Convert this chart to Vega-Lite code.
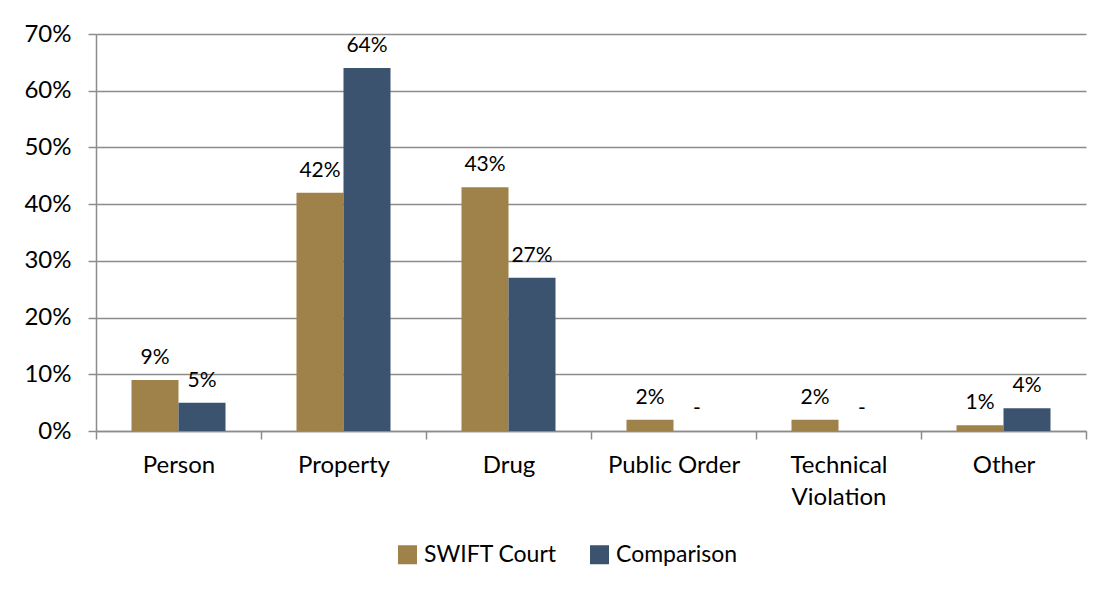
{
  "$schema": "https://vega.github.io/schema/vega-lite/v6.json",
  "width": 990,
  "height": 397,
  "autosize": "none",
  "padding": {"left": 96, "top": 34, "right": 22, "bottom": 161},
  "background": "white",
  "config": {
    "font": "Lato",
    "view": {"stroke": null},
    "axis": {"labelFont": "Lato", "labelColor": "#000000", "titleFont": "Lato"},
    "legend": {"labelFont": "Lato"}
  },
  "data": {
    "values": [
      {"category": "Person", "series": "SWIFT Court", "value": 9, "label": "9%"},
      {"category": "Person", "series": "Comparison", "value": 5, "label": "5%"},
      {"category": "Property", "series": "SWIFT Court", "value": 42, "label": "42%"},
      {"category": "Property", "series": "Comparison", "value": 64, "label": "64%"},
      {"category": "Drug", "series": "SWIFT Court", "value": 43, "label": "43%"},
      {"category": "Drug", "series": "Comparison", "value": 27, "label": "27%"},
      {"category": "Public Order", "series": "SWIFT Court", "value": 2, "label": "2%"},
      {"category": "Public Order", "series": "Comparison", "value": 0, "label": "-"},
      {"category": "Technical Violation", "series": "SWIFT Court", "value": 2, "label": "2%"},
      {"category": "Technical Violation", "series": "Comparison", "value": 0, "label": "-"},
      {"category": "Other", "series": "SWIFT Court", "value": 1, "label": "1%"},
      {"category": "Other", "series": "Comparison", "value": 4, "label": "4%"}
    ]
  },
  "encoding": {
    "x": {
      "field": "category",
      "type": "nominal",
      "sort": ["Person", "Property", "Drug", "Public Order", "Technical Violation", "Other"],
      "scale": {"paddingInner": 0, "paddingOuter": 0},
      "axis": {
        "title": null,
        "labelAngle": 0,
        "labelFontSize": 24,
        "labelPadding": 14,
        "labelLineHeight": 32,
        "labelBaseline": "top",
        "labelExpr": "datum.label == 'Technical Violation' ? ['Technical', 'Violation'] : datum.label",
        "tickBand": "extent",
        "tickSize": 8,
        "tickColor": "#8c8c8c",
        "tickWidth": 1.5,
        "domainColor": "#8c8c8c",
        "domainWidth": 1.5
      }
    },
    "xOffset": {
      "field": "series",
      "type": "nominal",
      "sort": ["SWIFT Court", "Comparison"],
      "scale": {"paddingInner": 0, "paddingOuter": 0.755}
    },
    "y": {
      "field": "value",
      "type": "quantitative",
      "scale": {"domain": [0, 70], "nice": false},
      "axis": {
        "title": null,
        "values": [0, 10, 20, 30, 40, 50, 60, 70],
        "labelExpr": "datum.value + '%'",
        "labelFontSize": 24,
        "labelPadding": 17,
        "tickSize": 8,
        "tickColor": "#8c8c8c",
        "tickWidth": 1.5,
        "domainColor": "#8c8c8c",
        "domainWidth": 1.5,
        "grid": true,
        "gridColor": "#8c8c8c",
        "gridWidth": 1.5
      }
    }
  },
  "layer": [
    {
      "mark": {"type": "bar"},
      "encoding": {
        "color": {
          "field": "series",
          "type": "nominal",
          "sort": ["SWIFT Court", "Comparison"],
          "scale": {"domain": ["SWIFT Court", "Comparison"], "range": ["#9F8249", "#3C536F"]},
          "legend": {
            "title": null,
            "orient": "none",
            "direction": "horizontal",
            "legendX": 300,
            "legendY": 509,
            "symbolType": "square",
            "symbolSize": 361,
            "symbolStrokeWidth": 0,
            "labelFontSize": 23,
            "labelColor": "#000000",
            "labelOffset": 5,
            "columnPadding": 31
          }
        }
      }
    },
    {
      "mark": {"type": "text", "baseline": "alphabetic", "dy": -16, "fontSize": 21, "color": "#000000", "font": "Lato"},
      "encoding": {
        "text": {"field": "label"}
      }
    }
  ]
}
